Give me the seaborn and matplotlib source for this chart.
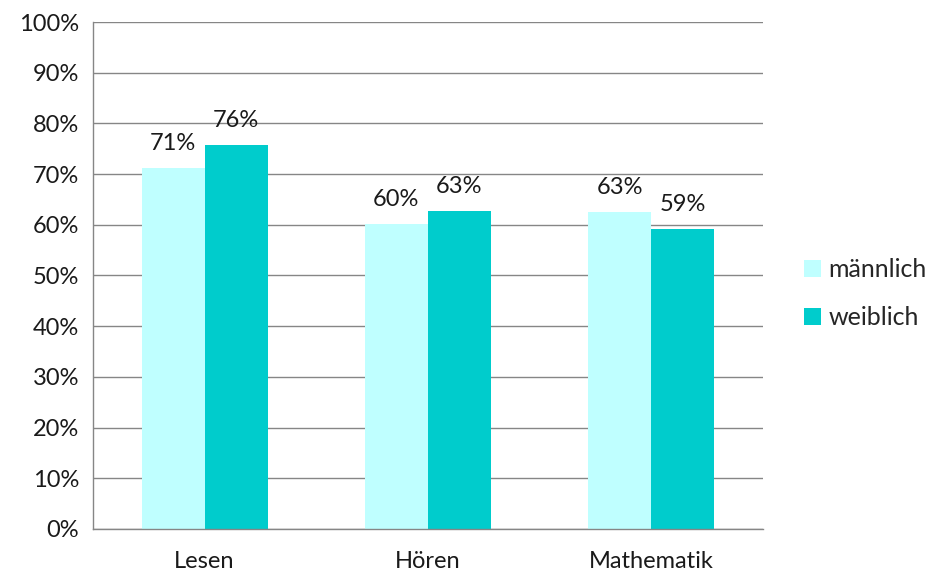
import pandas as pd
import numpy as np
import matplotlib.pyplot as plt
import seaborn as sns
from matplotlib.patches import Patch
from matplotlib.ticker import PercentFormatter

# values (fractions)
categories = ['Lesen', 'Hören', 'Mathematik']
groups = ['männlich', 'weiblich']
maennlich = [0.712, 0.602, 0.626]
weiblich = [0.757, 0.628, 0.591]
colors = ['#BFFFFF', '#00CCCC']

df = pd.DataFrame({
    'Fach': categories * 2,
    'Geschlecht': [groups[0]] * 3 + [groups[1]] * 3,
    'Anteil': maennlich + weiblich,
})

sns.set_style('white')
plt.rcParams['font.family'] = ['Lato', 'DejaVu Sans']
grey = '#868686'
txt = '#1a1a1a'
fs = 17

fig = plt.figure(figsize=(9.28, 5.73), dpi=100)
ax = fig.add_axes([0.1002, 0.0768, 0.7218, 0.8848])

sns.barplot(data=df, x='Fach', y='Anteil', hue='Geschlecht', order=categories,
            hue_order=groups, palette=colors, width=0.565, gap=0,
            saturation=1, linewidth=0, legend=False, ax=ax)

# data labels
for cont in ax.containers:
    ax.bar_label(cont, labels=[f'{v:.0%}' for v in cont.datavalues],
                 padding=10, fontsize=fs, color=txt)

ax.set_ylim(0, 1)
ax.set_xlim(-0.5, 2.5)
ax.set_yticks(np.arange(0, 1.01, 0.1))
ax.yaxis.set_major_formatter(PercentFormatter(1.0, decimals=0))
ax.yaxis.grid(True, color=grey, linewidth=1)
ax.set_axisbelow(True)
ax.set_xlabel('')
ax.set_ylabel('')

for s in ['top', 'right']:
    ax.spines[s].set_visible(False)
for s in ['left', 'bottom']:
    ax.spines[s].set_color(grey)
    ax.spines[s].set_linewidth(1)

ax.tick_params(axis='y', length=5, color=grey, labelsize=fs, labelcolor=txt, pad=5)
ax.tick_params(axis='x', which='major', length=0, labelsize=fs, labelcolor=txt, pad=16)
ax.set_xticks([-0.5, 0.5, 1.5, 2.5], minor=True)
ax.tick_params(axis='x', which='minor', length=6, color=grey, width=1)

handles = [Patch(facecolor=c, edgecolor='none', label=g) for c, g in zip(colors, groups)]
fig.legend(handles=handles, loc='center left', bbox_to_anchor=(0.866, 0.487),
           frameon=False, fontsize=fs + 1, handlelength=0.7, handleheight=0.7,
           handletextpad=0.3, labelspacing=1.0, borderpad=0, borderaxespad=0)

fig.savefig('out.png', dpi=100)
